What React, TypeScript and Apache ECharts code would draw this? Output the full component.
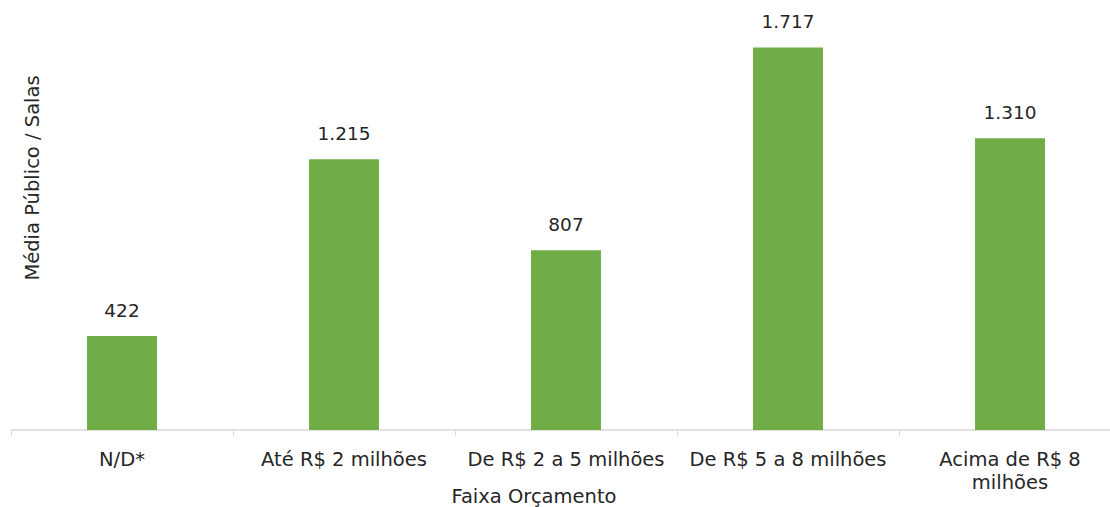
import React, { useEffect, useRef } from "react";
import * as echarts from "echarts";

const categories = ["N/D*", "Até R$ 2 milhões", "De R$ 2 a 5 milhões", "De R$ 5 a 8 milhões", "Acima de R$ 8\nmilhões"];
const values = [422, 1215, 807, 1717, 1310];
const xAxisName = "Faixa Orçamento";
const yAxisName = "Média Público / Salas";

const FONT = "'DejaVu Sans', sans-serif";

export default function App() {
  const ref = useRef<HTMLDivElement>(null);
  useEffect(() => {
    if (!ref.current) return;
    const chart = echarts.init(ref.current, undefined, { renderer: "svg" });
    chart.setOption({
      animation: false,
      grid: { left: 11, top: 29, width: 1110, height: 401 },
      xAxis: {
        type: "category",
        data: categories,
        axisLine: { lineStyle: { color: "#d9d9d9", width: 1.5 } },
        axisTick: { show: true, length: 6, lineStyle: { color: "#d9d9d9" } },
        axisLabel: {
          color: "#262626",
          fontFamily: FONT,
          fontSize: 19.5,
          margin: 18,
          lineHeight: 23,
          interval: 0,
        },
      },
      yAxis: {
        type: "value",
        min: 0,
        max: 1800,
        show: false,
      },
      graphic: [
        {
          type: "text",
          x: 534,
          y: 496,
          style: {
            text: xAxisName,
            fill: "#262626",
            font: `19.5px ${FONT}`,
            textAlign: "center",
            textVerticalAlign: "middle",
          },
        },
        {
          type: "text",
          x: 32,
          y: 178,
          rotation: Math.PI / 2,
          style: {
            text: yAxisName,
            fill: "#262626",
            font: `19.5px ${FONT}`,
            textAlign: "center",
            textVerticalAlign: "middle",
          },
        },
      ],
      series: [
        {
          type: "bar",
          data: values,
          barWidth: 70,
          itemStyle: { color: "#70AD47" },
          label: {
            show: true,
            position: "top",
            distance: 16,
            color: "#262626",
            fontFamily: FONT,
            fontSize: 18.5,
            formatter: (p: any) => p.value.toLocaleString("pt-BR"),
          },
        },
      ],
    });
    return () => chart.dispose();
  }, []);
  return <div ref={ref} style={{ position: "absolute", left: 0, top: 0, width: 1130, height: 507 }} />;
}
